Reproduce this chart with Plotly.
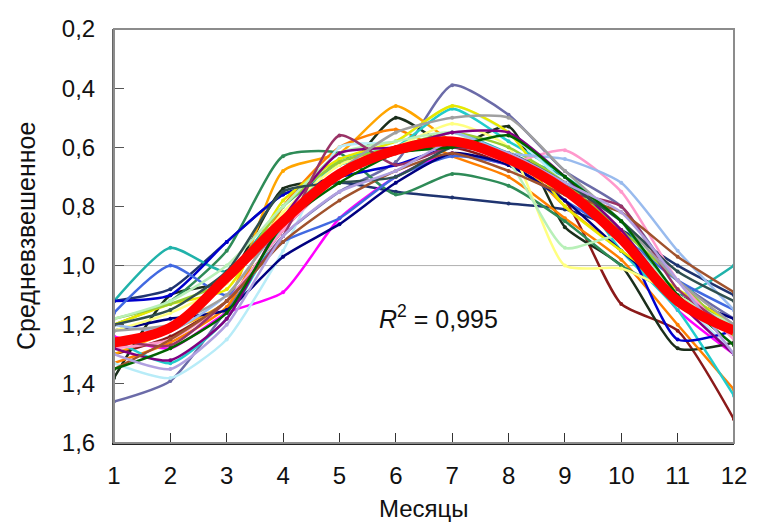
import plotly.graph_objects as go

months = list(range(1, 13))

series_colors = [
    "#6b6ba8", "#1f3470", "#ff00ff", "#8b1a1a", "#1b2e1b", "#ffa500",
    "#ff7f00", "#2e8b57", "#20b2aa", "#22cccc", "#b8ecf8", "#0000cd",
    "#4169e1", "#000080", "#e8e800", "#ffff80", "#9acd32", "#b8f0b8",
    "#ff99cc", "#99bbee", "#800080", "#993366", "#a0a0a0", "#a0522d",
    "#2f4f4f", "#006400", "#b0a0e0",
]

series_values = [
    [1.46, 1.39, 1.15, 0.90, 0.75, 0.65, 0.39, 0.49, 0.68, 0.80, 1.05, 1.18],
    [1.12, 1.08, 0.92, 0.76, 0.72, 0.75, 0.77, 0.79, 0.81, 0.88, 1.00, 1.10],
    [1.24, 1.28, 1.16, 1.09, 0.84, 0.70, 0.62, 0.66, 0.72, 0.90, 1.15, 1.30],
    [1.30, 1.24, 1.12, 0.88, 0.70, 0.62, 0.60, 0.66, 0.78, 1.13, 1.22, 1.52],
    [1.38, 1.10, 1.05, 0.74, 0.70, 0.50, 0.60, 0.53, 0.87, 1.00, 1.28, 1.26],
    [1.30, 1.22, 1.12, 0.68, 0.62, 0.46, 0.58, 0.62, 0.80, 0.95, 1.12, 1.20],
    [1.33, 1.26, 1.14, 0.80, 0.60, 0.54, 0.63, 0.70, 0.84, 0.98, 1.20, 1.42],
    [1.20, 1.12, 0.95, 0.63, 0.62, 0.76, 0.69, 0.73, 0.85, 1.00, 1.10, 1.20],
    [1.12, 0.94, 1.02, 0.80, 0.66, 0.62, 0.55, 0.62, 0.70, 0.85, 1.10, 1.00],
    [1.25, 1.33, 1.18, 0.86, 0.64, 0.60, 0.47, 0.58, 0.70, 0.95, 1.15, 1.44],
    [1.33, 1.38, 1.25, 0.95, 0.60, 0.58, 0.46, 0.55, 0.72, 0.85, 1.10, 1.30],
    [1.12, 1.10, 0.92, 0.76, 0.70, 0.66, 0.60, 0.62, 0.74, 0.90, 1.25, 1.22],
    [1.16, 1.00, 1.10, 0.92, 0.84, 0.70, 0.63, 0.66, 0.78, 0.90, 1.05, 1.15],
    [1.22, 1.18, 1.15, 0.97, 0.86, 0.72, 0.62, 0.66, 0.78, 0.95, 1.10, 1.18],
    [1.20, 1.13, 1.08, 0.78, 0.64, 0.58, 0.46, 0.55, 0.80, 0.95, 1.08, 1.20],
    [1.22, 1.16, 1.06, 0.82, 0.66, 0.60, 0.52, 0.60, 1.00, 1.01, 1.10, 1.22],
    [1.18, 1.13, 1.05, 0.80, 0.65, 0.60, 0.55, 0.60, 0.72, 0.88, 1.05, 1.24],
    [1.18, 1.12, 1.00, 0.80, 0.62, 0.58, 0.55, 0.65, 0.94, 0.90, 1.10, 1.20],
    [1.28, 1.25, 1.12, 0.88, 0.70, 0.62, 0.58, 0.65, 0.61, 0.75, 1.05, 1.25],
    [1.20, 1.22, 1.10, 0.85, 0.68, 0.62, 0.55, 0.62, 0.64, 0.72, 0.95, 1.15],
    [1.28, 1.32, 1.18, 0.84, 0.62, 0.60, 0.55, 0.55, 0.70, 0.88, 1.12, 1.30],
    [1.25, 1.27, 1.12, 0.90, 0.56, 0.66, 0.60, 0.63, 0.75, 0.80, 1.08, 1.22],
    [1.22, 1.20, 1.10, 0.85, 0.68, 0.55, 0.50, 0.50, 0.68, 0.85, 1.05, 1.20],
    [1.35, 1.25, 1.12, 0.92, 0.78, 0.68, 0.62, 0.68, 0.76, 0.82, 0.97, 1.09],
    [1.20, 1.15, 1.02, 0.75, 0.72, 0.70, 0.60, 0.62, 0.72, 0.85, 1.02, 1.12],
    [1.35, 1.28, 1.16, 0.86, 0.72, 0.62, 0.60, 0.56, 0.70, 0.85, 1.10, 1.27],
    [1.30, 1.35, 1.20, 0.90, 0.75, 0.68, 0.58, 0.62, 0.72, 0.82, 1.05, 1.30],
]

fit_values = [1.26, 1.21, 1.04, 0.85, 0.69, 0.61, 0.58, 0.64, 0.745, 0.91, 1.12, 1.22]

y_tickvals = [0.2, 0.4, 0.6, 0.8, 1.0, 1.2, 1.4, 1.6]
y_ticktext = ["0,2", "0,4", "0,6", "0,8", "1,0", "1,2", "1,4", "1,6"]
x_ticktext = [str(m) for m in months]

r2_text = "<i>R</i><sup>2</sup> = 0,995"
x_title = "Месяцы"
y_title = "Средневзвешенное"

FONT = "Liberation Sans, Arial, sans-serif"

fig = go.Figure()
for col, vals in zip(series_colors, series_values):
    fig.add_trace(go.Scatter(
        x=months, y=vals, mode="lines+markers",
        line=dict(color=col, width=2.5, shape="spline", smoothing=0.6),
        marker=dict(color=col, size=4),
        showlegend=False, hoverinfo="skip",
    ))

fig.add_trace(go.Scatter(
    x=months, y=fit_values, mode="lines",
    line=dict(color="#ff0000", width=10, shape="spline", smoothing=1.0),
    showlegend=False, hoverinfo="skip",
))

fig.add_shape(type="line", xref="paper", x0=0, x1=1, yref="y", y0=1.0, y1=1.0,
              line=dict(color="#b0b0b0", width=1), layer="below")
fig.add_shape(type="rect", xref="paper", yref="paper", x0=0, x1=1, y0=0, y1=1,
              line=dict(color="#8c8c8c", width=2), layer="above")

fig.add_annotation(x=5.66, y=1.174, xref="x", yref="y", text=r2_text,
                   showarrow=False, xanchor="left", yanchor="middle",
                   font=dict(family=FONT, size=25, color="#111"))

# axis titles placed as annotations (paper coords)
fig.add_annotation(x=0.5, y=-0.158, xref="paper", yref="paper", text=x_title,
                   showarrow=False, xanchor="center", yanchor="middle",
                   font=dict(family=FONT, size=24, color="#111"))
fig.add_annotation(x=-0.142, y=0.5, xref="paper", yref="paper", text=y_title,
                   showarrow=False, xanchor="center", yanchor="middle", textangle=-90,
                   font=dict(family=FONT, size=25, color="#111"))

fig.update_layout(
    width=759, height=526,
    margin=dict(l=114, r=17, t=29, b=83),
    paper_bgcolor="white", plot_bgcolor="white",
    font=dict(family=FONT, size=24, color="#111"),
    xaxis=dict(
        range=[1, 12], tickvals=months, ticktext=x_ticktext,
        ticks="inside", ticklen=10, tickcolor="#333", tickwidth=1,
        showgrid=False, zeroline=False, showline=True, linecolor="#222", linewidth=2,
        tickfont=dict(size=24), ticklabelstandoff=10,
    ),
    yaxis=dict(
        range=[1.6, 0.2], tickvals=y_tickvals, ticktext=y_ticktext,
        ticks="inside", ticklen=10, tickcolor="#555", tickwidth=1,
        showgrid=False, zeroline=False, showline=True, linecolor="#666", linewidth=2,
        tickfont=dict(size=24), ticklabelstandoff=12,
    ),
)

fig.write_html("out.html")
